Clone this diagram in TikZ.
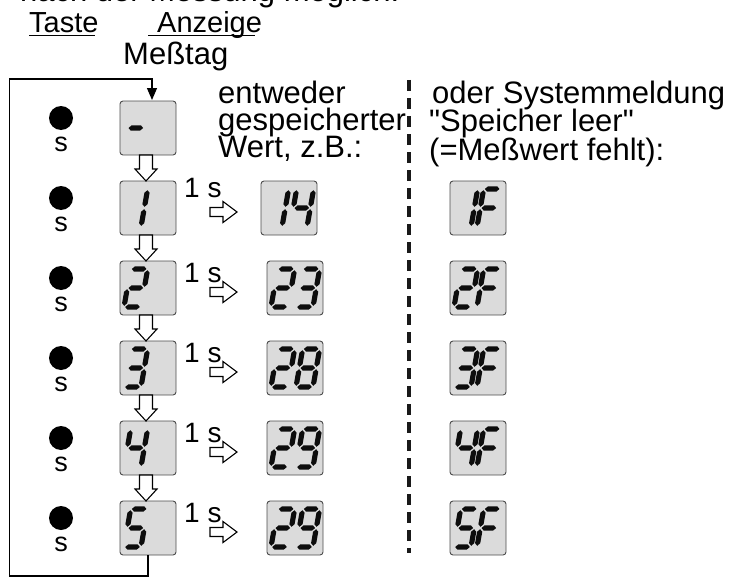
\documentclass[tikz,border=0pt]{standalone}
\usepackage{fontspec}
\setmainfont{Liberation Sans}[Ligatures=TeXOff]
\usetikzlibrary{arrows.meta,calc}

% seven-segment helpers (u to the right, t downward; cell 17 x 38)
\newcommand\hseg[3]{\fill (#1,#3) -- ({#1+2.6},{#3-2.6}) -- ({#2-2.6},{#3-2.6}) -- (#2,#3) -- ({#2-2.6},{#3+2.6}) -- ({#1+2.6},{#3+2.6}) -- cycle;}
\newcommand\vseg[3]{\fill (#1,#2) -- ({#1+2.6},{#2+2.6}) -- ({#1+2.6},{#3-2.6}) -- (#1,#3) -- ({#1-2.6},{#3-2.6}) -- ({#1-2.6},{#2+2.6}) -- cycle;}
\newcommand\segA{\hseg{1.2}{15.8}{0}}
\newcommand\segB{\vseg{17}{1.2}{17.8}}
\newcommand\segC{\vseg{17}{20.2}{36.8}}
\newcommand\segD{\hseg{1.2}{15.8}{38}}
\newcommand\segE{\vseg{0}{20.2}{36.8}}
\newcommand\segF{\vseg{0}{1.2}{17.8}}
\newcommand\segG{\hseg{1.2}{15.8}{19}}
\newcommand\dOne{\segB\segC}
\newcommand\dTwo{\segA\segB\segG\segE\segD}
\newcommand\dThree{\segA\segB\segG\segC\segD}
\newcommand\dFour{\segF\segG\segB\segC}
\newcommand\dFive{\segA\segF\segG\segC\segD}
\newcommand\dEight{\segA\segB\segC\segD\segE\segF\segG}
\newcommand\dNine{\segA\segB\segC\segD\segF\segG}
\newcommand\dFF{\segA\segF\segG\segE}
\newcommand\dMinus{\segG}
% #1 node anchor, #2 x offset, #3 y offset, #4 segments
\newcommand\digitat[4]{\begin{scope}[shift={(#1)}]\begin{scope}[shift={({#2+6.65},#3)},xslant=0.175,fill=black!95]#4\end{scope}\end{scope}}

\begin{document}
\begin{tikzpicture}[x=1pt,y=-1pt,
  dbox/.style={draw=black!70, line width=0.9pt, fill=black!14, rounded corners=3pt,
    minimum width=56pt, minimum height=54pt, inner sep=0pt, outer sep=0pt, anchor=north west},
  lbl/.style={anchor=base west, inner sep=0pt, font=\fontsize{31}{28}\selectfont},
  hdr/.style={anchor=base west, inner sep=0pt, font=\fontsize{29}{30}\selectfont},
  secs/.style={anchor=base west, inner sep=0pt, font=\fontsize{28}{30}\selectfont},
  keys/.style={anchor=base, inner sep=0pt, font=\fontsize{27}{30}\selectfont},
  hollow/.style={draw=black, line width=1.1pt, fill=white, line join=miter},
  loopline/.style={draw=black, line width=1.3pt},
  sep/.style={draw=black!90, line width=3.2pt, dash pattern=on 11pt off 7pt}]
\useasboundingbox (0,0) rectangle (731,578);
\clip (0,0) rectangle (731,578);

% top (cut) line and headers
\node[lbl] (cut) at (20,2) {nach der Messung möglich:};
\node[hdr] (taste) at (29,33) {Taste};
\node[hdr] (anz) at (157,33) {Anzeige};
\draw[line width=1.4pt] (29,35.5) -- (95,35.5);
\draw[line width=1.4pt] (148,35.5) -- (255,35.5);
\node[lbl] (mess) at (123,65) {Meßtag};

% explanation texts
\node[lbl] (t1) at (218,103) {entweder};
\node[lbl] (t2) at (218,130) {gespeicherter};
\node[lbl] (t3) at (218,157) {Wert, z.B.:};
\node[lbl] (r1) at (432,103) {oder Systemmeldung};
\node[lbl] (r2) at (429,131) {"Speicher leer"};
\node[lbl] (r3) at (429,160) {(=Meßwert fehlt):};

% dashed separator
\coordinate (septop) at (409,80);
\coordinate (sepbot) at (409,553);
\draw[sep] (septop) -- (sepbot);

% main column boxes
\foreach \n in {0,...,5}{
  \node[dbox] (m\n) at (120,{101+80*\n}) {};
  \fill (61,{101+80*\n+17}) circle (12);
  \node[keys] (s\n) at (61,{101+80*\n+50}) {s};
}
\digitat{m0.north west}{4}{8}{\dMinus}
\digitat{m1.north west}{4}{8}{\dOne}
\digitat{m2.north west}{4}{8}{\dTwo}
\digitat{m3.north west}{4}{8}{\dThree}
\digitat{m4.north west}{4}{8}{\dFour}
\digitat{m5.north west}{4}{8}{\dFive}

% value boxes
\node[dbox] (v1) at (261,181) {};
\node[dbox] (v2) at (267,261) {};
\node[dbox] (v3) at (267,341) {};
\node[dbox] (v4) at (267,421) {};
\node[dbox] (v5) at (267,501) {};
\digitat{v1.north west}{4}{8}{\dOne}\digitat{v1.north west}{29}{8}{\dFour}
\digitat{v2.north west}{4}{8}{\dTwo}\digitat{v2.north west}{29}{8}{\dThree}
\digitat{v3.north west}{4}{8}{\dTwo}\digitat{v3.north west}{29}{8}{\dEight}
\digitat{v4.north west}{4}{8}{\dTwo}\digitat{v4.north west}{29}{8}{\dNine}
\digitat{v5.north west}{4}{8}{\dTwo}\digitat{v5.north west}{29}{8}{\dNine}

% F boxes
\foreach \n in {1,...,5}{
  \node[dbox] (f\n) at (450,{101+80*\n}) {};
}
\digitat{f1.north west}{4}{8}{\dOne}\digitat{f1.north west}{27}{8}{\dFF}
\digitat{f2.north west}{4}{8}{\dTwo}\digitat{f2.north west}{27}{8}{\dFF}
\digitat{f3.north west}{4}{8}{\dThree}\digitat{f3.north west}{27}{8}{\dFF}
\digitat{f4.north west}{4}{8}{\dFour}\digitat{f4.north west}{27}{8}{\dFF}
\digitat{f5.north west}{4}{8}{\dFive}\digitat{f5.north west}{27}{8}{\dFF}

% hollow down arrows between main boxes
\foreach \a/\b in {0/1,1/2,2/3,3/4,4/5}{
  \draw[hollow] ($(m\a.south)+(-8.5,0)$) -- ++(0,14) -- ++(-4.5,0) -- ($(m\b.north)+(-2,0)$)
     -- ($(m\a.south)+(9,14)$) -- ++(-4.5,0) -- ++(0,-14) -- cycle;
}

% "1 s" labels and hollow right arrows
\foreach \n in {1,...,5}{
  \draw[hollow] ($(m\n.east)+(34,-0.5)$) -- ++(13,0) -- ++(0,-6) -- ++(14,10.5)
     -- ++(-14,10.5) -- ++(0,-6) -- ++(-13,0) -- cycle;
}
\node[secs] (l1) at (184,197) {1 s};
\foreach \n in {2,...,5}{
  \node[secs] (l\n) at (184,{101+80*\n+21}) {1 s};
}

% loop connector
\coordinate (lb) at (9.5,576);
\coordinate (lt) at (9.5,79);
\coordinate (a0) at ($(m0.north)+(4,-1)$);
\draw[loopline, -{Triangle[length=12pt,width=10pt]}] (m5.south) |- (lb) -- (lt) -| (a0);
\end{tikzpicture}
\end{document}
